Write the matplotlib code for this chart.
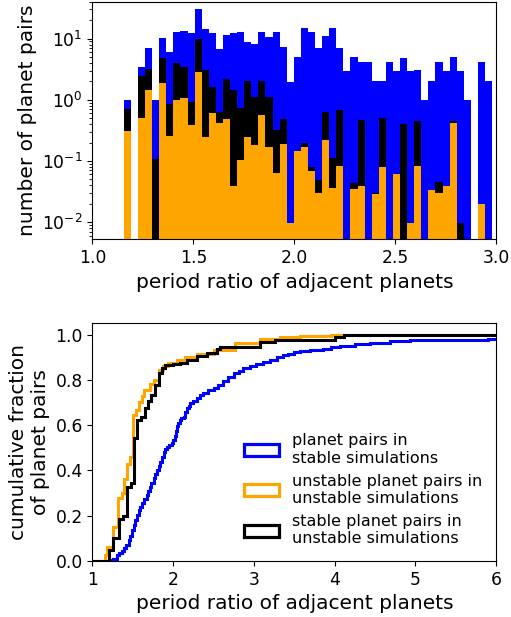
import numpy as np
import matplotlib
matplotlib.use("Agg")
import matplotlib.pyplot as plt
from matplotlib.patches import Patch

# histogram binning (uniform bins in period ratio)
bin_lo, bin_hi, n_bins = 1.155, 2.98, 52

# number of planet pairs per bin
stable_sims = [1.0, 0, 3.47, 7.03, 1.0, 10.4, 5.97, 13.0, 13.5, 12.2,
               31.0, 14.6, 12.2, 6.86, 11.6, 12.5, 13.0, 8.93, 8.07, 13.0,
               10.8, 13.0, 7.2, 1.97, 5.07, 15.1, 13.0, 7.1, 11.2, 15.1,
               7.1, 2.99, 5.07, 4.09, 4.09, 2.05, 2.05, 4.09, 2.99, 4.88,
               2.99, 3.1, 1.01, 2.05, 4.09, 2.99, 5.07, 2.99, 1.01, 0,
               4.09, 2.0]
stable_in_unstable = [0.71, 0, 2.47, 3.18, 0.106, 4.88, 0.86, 3.94, 3.47, 0.93,
                      10.0, 3.1, 1.61, 0.64, 2.18, 1.46, 0.74, 2.05, 1.12, 2.05,
                      1.09, 0.32, 0.49, 0, 0, 0.20, 0.079, 0.049, 0.64, 0.112,
                      0.69, 0, 0.0436, 0.47, 0, 0.030, 0.51, 0, 0, 0.40,
                      0, 0.45, 0, 0.034, 0.045, 0, 0.45, 0.0096, 0, 0,
                      0, 0]
unstable_in_unstable = [0.31, 0, 0.51, 1.46, 0, 1.90, 0.257, 0.975, 1.08, 0.39,
                        2.81, 0.25, 0.61, 0.41, 0.49, 0.039, 0.104, 0.247, 0.183, 0.57,
                        0.17, 0.064, 0.19, 0.0098, 0.146, 0.17, 0.069, 0.030, 0.22, 0.036,
                        0.084, 0, 0.035, 0.039, 0, 0.029, 0.079, 0, 0.062, 0,
                        0.0098, 0.084, 0, 0.033, 0.030, 0.039, 0.41, 0, 0, 0,
                        0.020, 0]

# cumulative distributions: step positions and fraction after each step
blue_x = [1.00, 1.22, 1.26, 1.30, 1.33, 1.36, 1.39, 1.42, 1.45, 1.47, 1.49,
          1.51, 1.53, 1.55, 1.57, 1.59, 1.61, 1.64, 1.67, 1.69, 1.71, 1.73,
          1.76, 1.78, 1.80, 1.82, 1.84, 1.86, 1.88, 1.90, 1.92, 1.95, 1.98,
          2.00, 2.02, 2.035, 2.05, 2.065, 2.08, 2.10, 2.13, 2.15, 2.17, 2.19,
          2.21, 2.25, 2.29, 2.33, 2.37, 2.43, 2.50, 2.56, 2.62, 2.68, 2.75,
          2.81, 2.87, 2.95, 3.03, 3.11, 3.20, 3.28, 3.36, 3.42, 3.49, 3.57,
          3.70, 3.86, 3.96, 4.07, 4.25, 4.44, 4.68, 4.93, 5.43, 5.90]
blue_y = [0.0, 0.004, 0.010, 0.025, 0.035, 0.045, 0.058, 0.072, 0.092, 0.112,
          0.136, 0.158, 0.180, 0.203, 0.225, 0.240, 0.254, 0.272, 0.291, 0.310,
          0.328, 0.346, 0.365, 0.384, 0.402, 0.420, 0.439, 0.461, 0.483, 0.495,
          0.505, 0.512, 0.520, 0.535, 0.550, 0.572, 0.594, 0.610, 0.624, 0.630,
          0.638, 0.657, 0.675, 0.686, 0.697, 0.708, 0.719, 0.731, 0.742, 0.753,
          0.764, 0.779, 0.793, 0.811, 0.830, 0.841, 0.852, 0.862, 0.872, 0.880,
          0.889, 0.900, 0.911, 0.916, 0.922, 0.926, 0.930, 0.936, 0.944, 0.951,
          0.957, 0.963, 0.970, 0.975, 0.978, 0.981]

orange_x = [1.00, 1.15, 1.18, 1.25, 1.32, 1.36, 1.39, 1.43, 1.47, 1.50,
            1.54, 1.58, 1.61, 1.64, 1.71, 1.76, 1.82, 1.87, 1.93, 2.05,
            2.15, 2.30, 2.50, 2.76, 3.08, 3.32, 3.57, 3.95]
orange_y = [0.0, 0.025, 0.06, 0.15, 0.28, 0.30, 0.36, 0.43, 0.46, 0.645,
            0.667, 0.70, 0.727, 0.757, 0.78, 0.80, 0.845, 0.86, 0.875, 0.889,
            0.90, 0.914, 0.93, 0.965, 0.98, 0.99, 0.996, 1.0]

black_x = [1.00, 1.20, 1.25, 1.33, 1.38, 1.43, 1.48, 1.51, 1.55, 1.60,
           1.65, 1.69, 1.73, 1.77, 1.82, 1.86, 1.90, 2.00, 2.09, 2.17,
           2.29, 2.42, 2.54, 2.58, 3.08, 3.26, 4.00, 4.12]
black_y = [0.0, 0.047, 0.099, 0.183, 0.198, 0.328, 0.343, 0.542, 0.623, 0.638,
           0.675, 0.705, 0.734, 0.778, 0.830, 0.852, 0.867, 0.870, 0.874, 0.889,
           0.907, 0.920, 0.936, 0.945, 0.966, 0.978, 0.990, 1.0]

labels = ["planet pairs in\nstable simulations",
          "unstable planet pairs in\nunstable simulations",
          "stable planet pairs in\nunstable simulations"]
colors = ["blue", "orange", "black"]

label_size = 14.5
tick_size = 12.3

fig = plt.figure(figsize=(5.11, 6.17), dpi=100)
ax1 = fig.add_axes([0.181, 0.612, 0.790, 0.385])
ax2 = fig.add_axes([0.181, 0.091, 0.790, 0.385])

# ---- top: per-bin counts on a log axis ----
edges = np.linspace(bin_lo, bin_hi, n_bins + 1)
centers = 0.5 * (edges[:-1] + edges[1:])
for counts, color in [(stable_sims, "blue"),
                      (stable_in_unstable, "black"),
                      (unstable_in_unstable, "orange")]:
    ax1.hist(centers, bins=edges, weights=counts, color=color, log=True)

ax1.set_xlim(1.0, 3.0)
ax1.set_ylim(5.2e-3, 40)
ax1.set_xticks([1.0, 1.5, 2.0, 2.5, 3.0])
ax1.set_xlabel("period ratio of adjacent planets", fontsize=label_size)
ax1.set_ylabel("number of planet pairs", fontsize=label_size)
ax1.tick_params(labelsize=tick_size)

# ---- bottom: cumulative fractions ----
for xs, ys, color in [(blue_x, blue_y, colors[0]),
                      (orange_x, orange_y, colors[1]),
                      (black_x, black_y, colors[2])]:
    ax2.stairs(ys, xs + [6.0], baseline=None, color=color, lw=2.2)

ax2.set_xlim(1, 6)
ax2.set_ylim(0, 1.05)
ax2.set_yticks([0.0, 0.2, 0.4, 0.6, 0.8, 1.0])
ax2.set_xlabel("period ratio of adjacent planets", fontsize=label_size)
ax2.set_ylabel("cumulative fraction\nof planet pairs", fontsize=label_size)
ax2.tick_params(labelsize=tick_size)

handles = [Patch(facecolor="none", edgecolor=c, lw=2.3) for c in colors]
ax2.legend(handles, labels, loc="lower right", frameon=False, fontsize=11.5,
           handlelength=2.2, handleheight=0.8, labelspacing=0.5)

fig.savefig("out.png", dpi=100)
